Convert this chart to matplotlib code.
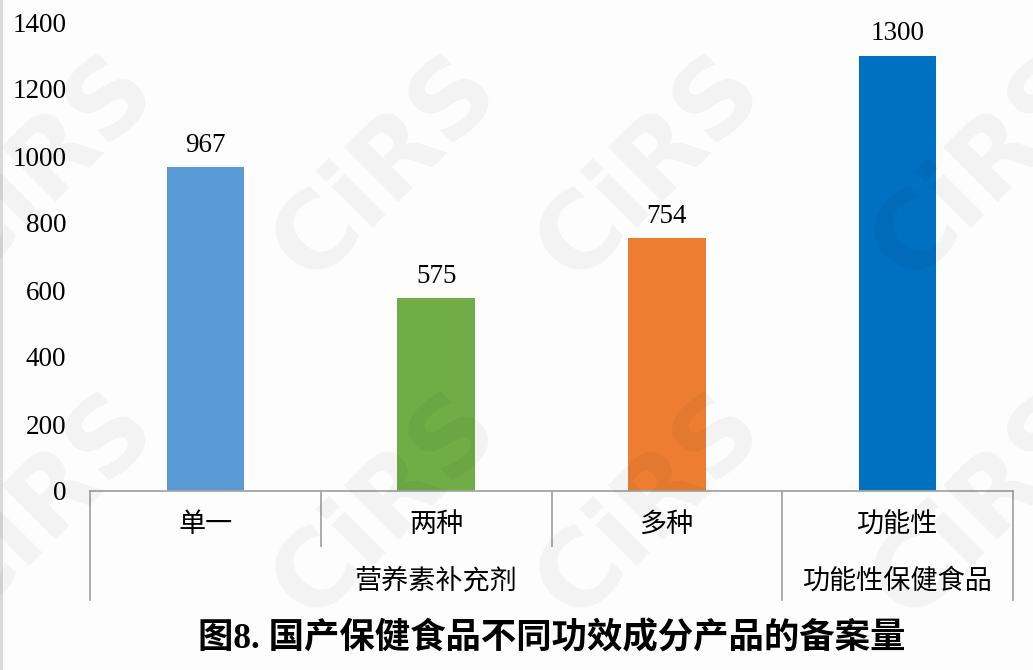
import matplotlib
matplotlib.use("Agg")
import matplotlib.pyplot as plt
from matplotlib.lines import Line2D
from matplotlib.patches import Rectangle

categories = ["单一", "两种", "多种", "功能性"]
groups = ["营养素补充剂", "功能性保健食品"]
group_sizes = [3, 1]
values = [967, 575, 754, 1300]
colors = ["#5B9BD5", "#70AD47", "#ED7D31", "#0070C0"]
yticks = [0, 200, 400, 600, 800, 1000, 1200, 1400]
title = "图8. 国产保健食品不同功效成分产品的备案量"
watermark = "CiRS"

FAM = ["Liberation Serif", "Noto Sans CJK SC", "DejaVu Sans"]
plt.rcParams["font.family"] = FAM

W, H = 1033, 670
fig = plt.figure(figsize=(W / 100, H / 100), dpi=100, facecolor="#FDFDFD")
L, R, B, T = 90 / W, 1013 / W, 1 - 491 / H, 1 - 22 / H
ax = fig.add_axes([L, B, R - L, T - B])
ax.set_facecolor("none")

x = list(range(len(categories)))
ax.bar(x, values, width=0.335, color=colors, zorder=2)
for xi, v in zip(x, values):
    ax.text(xi, v + 28, str(v), ha="center", va="bottom", fontsize=19.5, family=FAM)

ax.set_xlim(-0.5, len(categories) - 0.5)
ax.set_ylim(0, 1400)
ax.set_yticks(yticks)
ax.set_yticklabels([str(t) for t in yticks], fontsize=19.5)
ax.tick_params(axis="y", length=0, pad=17)
ax.set_xticks([])
for s in ["top", "right", "left"]:
    ax.spines[s].set_visible(False)
ax.spines["bottom"].set_color("#A6A6A6")
ax.spines["bottom"].set_linewidth(1.3)

# hierarchical axis labels
def fx(xd):
    return L + (xd + 0.5) / len(categories) * (R - L)

lc = "#A6A6A6"
row1_bottom = 1 - 546 / H
row2_bottom = 1 - 600 / H
bounds = [0]
for g in group_sizes:
    bounds.append(bounds[-1] + g)
for b in range(len(categories) + 1):
    xf = L + b / len(categories) * (R - L)
    yb = row2_bottom if b in bounds else row1_bottom
    fig.add_artist(Line2D([xf, xf], [B, yb], color=lc, lw=1.3, transform=fig.transFigure))
for i, c in enumerate(categories):
    fig.text(fx(i), 1 - 525 / H, c, ha="center", va="center", fontsize=19.5,
             family=["Noto Sans CJK SC"], fontweight="light")
for gi, g in enumerate(groups):
    start, end = bounds[gi], bounds[gi + 1]
    xc = L + (start + end) / 2 / len(categories) * (R - L)
    fig.text(xc, 1 - 581 / H, g, ha="center", va="center", fontsize=19.5,
             family=["Noto Sans CJK SC"], fontweight="light")

fig.text(552 / W, 1 - 639 / H, title, ha="center", va="center", fontsize=25.5,
         fontweight="bold", family=["Liberation Serif", "Noto Sans CJK SC"])

# thin left border strip
fig.add_artist(Rectangle((0, 0), 3 / W, 1, transform=fig.transFigure,
                         facecolor="#DADADA", edgecolor="none"))

# watermark tiles
for row_y in [168, 506]:
    for col_x in [43, 386, 650, 985]:
        fig.text(col_x / W, 1 - row_y / H, watermark, ha="center", va="center",
                 fontsize=76, fontweight="bold", rotation=45, color="black",
                 alpha=0.045, family=["DejaVu Sans"], zorder=10)

fig.savefig("out.png", dpi=100, facecolor=fig.get_facecolor())
